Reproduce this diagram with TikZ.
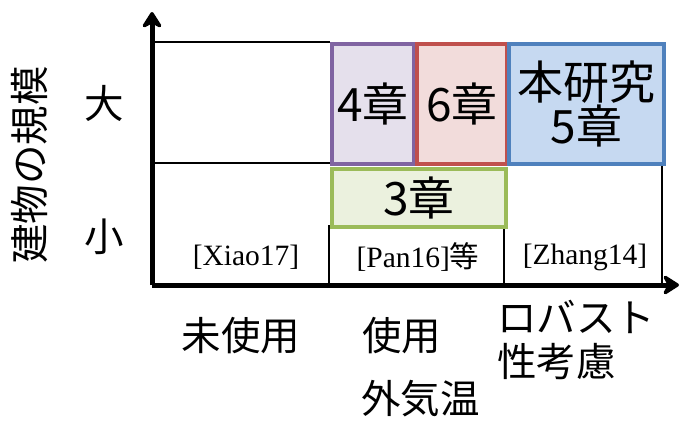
\documentclass[tikz,border=0pt]{standalone}
\usepackage{fontspec}
\setmainfont{Liberation Serif}
\newfontfamily\jp{Noto Sans CJK JP}
\usetikzlibrary{arrows.meta}
\definecolor{purpleB}{HTML}{8064A2}
\definecolor{purpleF}{HTML}{E5E0EC}
\definecolor{redB}{HTML}{C0504D}
\definecolor{redF}{HTML}{F2DCDB}
\definecolor{blueB}{HTML}{4F81BD}
\definecolor{blueF}{HTML}{C6D9F1}
\definecolor{greenB}{HTML}{9BBB59}
\definecolor{greenF}{HTML}{EBF1DE}
\begin{document}
\begin{tikzpicture}[x=1pt,y=-1pt,
  gridline/.style={line width=2.5pt,black},
  axisline/.style={line width=5pt,black,-{Stealth[length=19pt,width=24pt,inset=6pt,round]}},
  chbox/.style={line width=4pt,inner sep=0pt,anchor=north west,font=\jp\fontsize{46}{50}\selectfont,align=center},
  ref/.style={inner sep=0pt,font=\fontsize{29.5}{32}\selectfont},
  axlbl/.style={inner sep=0pt,font=\jp\fontsize{39.5}{46}\selectfont},
  axlblL/.style={axlbl,anchor=west,align=left}]
\useasboundingbox (0,0) rectangle (680,421);
% coordinates
\coordinate (O) at (152,285);
\coordinate (Ytop) at (152,12);
\coordinate (Xend) at (679,285);
\coordinate (t1) at (152,42);
\coordinate (t2) at (330,42);
\coordinate (m1) at (152,163);
\coordinate (m2) at (330,163);
\coordinate (r1) at (662,163);
\coordinate (r2) at (662,285);
\coordinate (v1a) at (329,225);
\coordinate (v1b) at (329,285);
\coordinate (v2a) at (504,225);
\coordinate (v2b) at (504,285);
% grid lines
\draw[gridline] (t1) -- (t2);
\draw[gridline] (m1) -- (m2);
\draw[gridline] (r1) -- (r2);
\draw[gridline] (v1a) -- (v1b);
\draw[gridline] (v2a) -- (v2b);
% chapter boxes
\node[chbox,draw=purpleB,fill=purpleF,minimum width=82pt,minimum height=120pt] (c4) at (330,42) {4章};
\node[chbox,draw=redB,fill=redF,minimum width=90pt,minimum height=120pt] (c6) at (415,42) {6章};
\node[chbox,draw=blueB,fill=blueF,minimum width=155pt,minimum height=120pt] (c5) at (507,42) {本研究\\[-6pt]5章};
\node[chbox,draw=greenB,fill=greenF,minimum width=174pt,minimum height=58pt] (c3) at (330,167) {3章};
% references
\node[ref] (xiao) at (246,257) {[Xiao17]};
\node[ref] (pan) at (418,257) {[Pan16]{\jp 等}};
\node[ref] (zhang) at (585,257) {[Zhang14]};
% axes
\draw[axisline] (O) -- (Ytop);
\draw[axisline] (O) -- (Xend);
% axis labels
\node[axlbl,rotate=90] (ylab) at (30,165) {建物の規模};
\node[axlbl] (big) at (104,103) {大};
\node[axlbl] (small) at (104,237) {小};
\node[axlbl] (unused) at (241,336) {未使用};
\node[axlblL] (used) at (362,336) {使用};
\node[axlblL] (temp) at (361,399) {外気温};
\node[axlblL] (robust) at (497,317) {ロバスト};
\node[axlblL] (consider) at (497,362) {性考慮};
\end{tikzpicture}
\end{document}
